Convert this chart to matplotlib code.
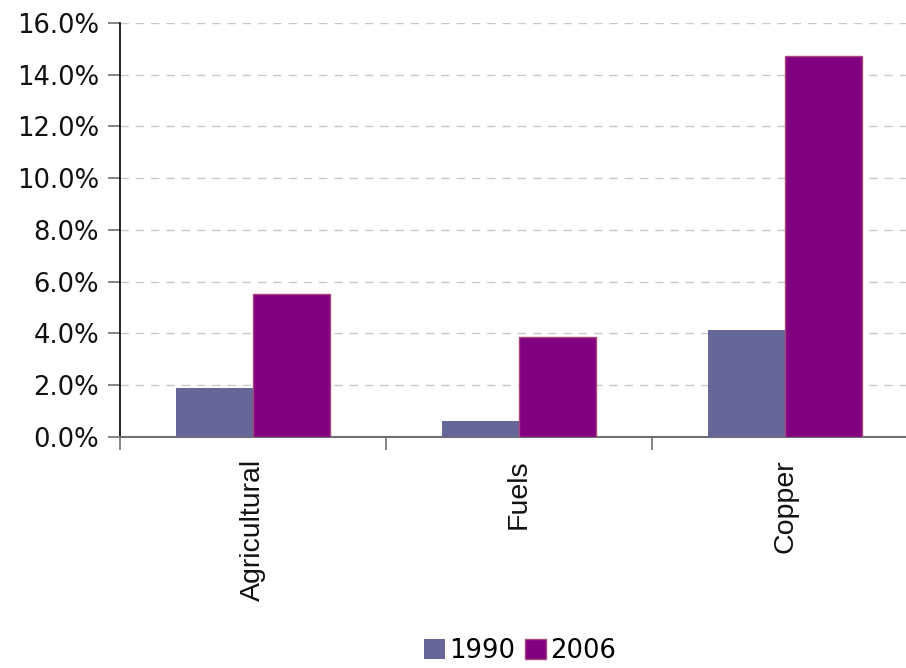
import matplotlib.pyplot as plt
import numpy as np
from matplotlib.ticker import FuncFormatter

categories = ['Agricultural', 'Fuels', 'Copper']
share_1990 = [1.90, 0.62, 4.14]
share_2006 = [5.52, 3.87, 14.74]

c1990 = '#666699'
c2006 = '#800080'

fig = plt.figure(figsize=(9.06, 6.68), dpi=100)
ax = fig.add_axes([0.1325, 0.3458, 0.8808, 0.6198])

x = np.arange(len(categories))
w = 0.29
ax.bar(x - w / 2, share_1990, w, color=c1990, label='1990', zorder=3)
ax.bar(x + w / 2, share_2006, w, color=c2006, edgecolor='#a8477f',
       linewidth=1.0, label='2006', zorder=3)

ax.set_xlim(-0.5, 2.5)
ax.set_ylim(0, 16)
ax.set_yticks(np.arange(0, 17, 2))
ax.yaxis.set_major_formatter(FuncFormatter(lambda v, p: f'{v:.1f}%'))
ax.tick_params(axis='y', labelsize=18.6, length=9, width=1.2, color='#707070',
               pad=6, labelcolor='#111111')
for lab in ax.get_yticklabels():
    lab.set_family('DejaVu Sans')

# category labels sit on the centres, tick marks sit between groups
ax.set_xticks(x)
ax.set_xticklabels(categories, rotation=90, fontsize=20.5,
                   family='Liberation Sans', color='#111111')
ax.tick_params(axis='x', which='major', length=0, pad=16)
ax.set_xticks([-0.5, 0.5, 1.5, 2.5], minor=True)
ax.tick_params(axis='x', which='minor', length=9, width=1.2, color='#707070')

ax.grid(axis='y', color='#c8c8c8', linestyle=(0, (6, 5)), linewidth=1.0, zorder=0)
for s in ['top', 'right']:
    ax.spines[s].set_visible(False)
ax.spines['left'].set_color('#000000')
ax.spines['left'].set_linewidth(1.2)
ax.spines['bottom'].set_color('#707070')
ax.spines['bottom'].set_linewidth(1.5)

fig.legend(loc='center', bbox_to_anchor=(0.574, 0.026), ncol=2, frameon=False,
           prop={'family': 'DejaVu Sans', 'size': 18.6},
           handlelength=0.8, handleheight=0.8, handletextpad=0.15,
           columnspacing=0.4, borderaxespad=0, borderpad=0.1)

fig.savefig('out.png', dpi=100)
